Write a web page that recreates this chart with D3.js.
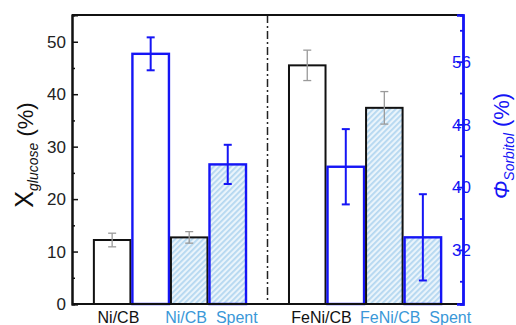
<!DOCTYPE html>
<html>
<head>
<meta charset="utf-8">
<script src="https://cdn.jsdelivr.net/npm/d3@7"></script>
<style>
  body { margin: 0; background: #fff; }
  svg { display: block; font-family: "Liberation Sans", Arial, sans-serif; }
</style>
</head>
<body>
<div id="chart"></div>
<script>
// data
const groups = ["Ni", "FeNi"];
const categories = ["Ni/CB", "Ni/CB_Spent", "FeNi/CB", "FeNi/CB_Spent"];
const conversion = [12.2, 12.7, 45.5, 37.4];      // X glucose (%), left axis
const conversionErr = [1.3, 1.1, 2.9, 3.1];
const selectivity = [57.0, 42.9, 42.6, 33.6];     // phi sorbitol (%), right axis
const selectivityErr = [2.1, 2.5, 4.8, 5.5];
const leftTicks = [0, 10, 20, 30, 40, 50];
const rightTicks = [32, 40, 48, 56];

const width = 516, height = 325;
const margin = { top: 15, right: 53, bottom: 21, left: 72 };
const x0 = margin.left, x1 = width - margin.right;
const y0 = height - margin.bottom, y1 = margin.top;

const blue = "#1515f5";
const labelBlue = "#3a98d8";

const svg = d3.select("#chart").append("svg")
  .attr("width", width).attr("height", height);

// hatch pattern for the spent catalysts
const defs = svg.append("defs");
const pat = defs.append("pattern")
  .attr("id", "hatch").attr("patternUnits", "userSpaceOnUse")
  .attr("width", 4).attr("height", 4)
  .attr("patternTransform", "rotate(45)");
pat.append("rect").attr("width", 4).attr("height", 4).attr("fill", "#eaf4fb");
pat.append("rect").attr("width", 1.8).attr("height", 4).attr("fill", "#b4d7f0");

// scales
const xGroup = d3.scaleBand().domain(groups).range([x0, x1])
  .paddingInner(0.21).paddingOuter(0.107);
const xBar = d3.scaleBand().domain([0, 1, 2, 3]).range([0, xGroup.bandwidth()]);
const yLeft = d3.scaleLinear().domain([0, 55.1]).range([y0, y1]);
const yRight = d3.scaleLinear().domain([25.1, 61.95]).range([y0, y1]);

// each category holds two bars: conversion then selectivity
function barX(i, k) {
  const g = groups[Math.floor(i / 2)];
  return xGroup(g) + xBar((i % 2) * 2 + k);
}
const bw = xBar.bandwidth();

const bars = svg.append("g");
categories.forEach((c, i) => {
  const spent = i % 2 === 1;
  const fill = spent ? "url(#hatch)" : "#fff";
  // black bar (left axis)
  let bx = barX(i, 0);
  bars.append("rect")
    .attr("x", bx + 1).attr("y", yLeft(conversion[i]))
    .attr("width", bw - 2).attr("height", y0 - yLeft(conversion[i]))
    .attr("fill", fill).attr("stroke", "#111").attr("stroke-width", 2);
  // blue bar (right axis)
  let rx = barX(i, 1);
  bars.append("rect")
    .attr("x", rx + 1).attr("y", yRight(selectivity[i]))
    .attr("width", bw - 2).attr("height", y0 - yRight(selectivity[i]))
    .attr("fill", fill).attr("stroke", blue).attr("stroke-width", 2.4);
});

// error bars
function errorBar(cx, yScale, v, e, color, w) {
  const g = svg.append("g").attr("stroke", color).attr("stroke-width", w);
  g.append("line").attr("x1", cx).attr("x2", cx)
    .attr("y1", yScale(v - e)).attr("y2", yScale(v + e));
  [v - e, v + e].forEach(t => {
    g.append("line").attr("x1", cx - 4).attr("x2", cx + 4)
      .attr("y1", yScale(t)).attr("y2", yScale(t));
  });
}
categories.forEach((c, i) => {
  errorBar(barX(i, 0) + bw / 2, yLeft, conversion[i], conversionErr[i], "#9a9a9a", 1.3);
  errorBar(barX(i, 1) + bw / 2, yRight, selectivity[i], selectivityErr[i], blue, 2);
});

// divider between fresh groups
const divX = (xGroup("Ni") + xGroup.bandwidth() + xGroup("FeNi")) / 2;
svg.append("line")
  .attr("x1", divX).attr("x2", divX).attr("y1", y1).attr("y2", y0)
  .attr("stroke", "#222").attr("stroke-width", 1.5)
  .attr("stroke-dasharray", "8,3,2,3");

// frame
svg.append("line").attr("x1", x0).attr("x2", x1).attr("y1", y1).attr("y2", y1)
  .attr("stroke", "#111").attr("stroke-width", 2);
svg.append("line").attr("x1", x0).attr("x2", x1).attr("y1", y0).attr("y2", y0)
  .attr("stroke", "#111").attr("stroke-width", 2);

// left axis, inward ticks
const axL = svg.append("g").attr("transform", `translate(${x0},0)`);
axL.call(d3.axisRight(yLeft).tickValues(d3.range(5, 55, 10)).tickSize(3).tickFormat(""));
axL.append("g").call(d3.axisRight(yLeft).tickValues(leftTicks).tickSize(6).tickFormat(""));
axL.selectAll("path.domain").attr("stroke", "#111").attr("stroke-width", 2);
axL.selectAll("line").attr("stroke", "#111").attr("stroke-width", 1.5);
axL.selectAll(".lbl").data(leftTicks).enter().append("text")
  .attr("x", -6).attr("y", d => yLeft(d)).attr("dy", "0.36em")
  .attr("text-anchor", "end").attr("font-size", 17).attr("fill", "#222")
  .text(d => d);

// right axis, blue, inward ticks
const axR = svg.append("g").attr("transform", `translate(${x1},0)`);
axR.call(d3.axisLeft(yRight).tickValues([28, 36, 44, 52, 60]).tickSize(3).tickFormat(""));
axR.append("g").call(d3.axisLeft(yRight).tickValues(rightTicks).tickSize(6).tickFormat(""));
axR.selectAll("path.domain").attr("stroke", blue).attr("stroke-width", 2.4);
axR.selectAll("line").attr("stroke", blue).attr("stroke-width", 1.8);
axR.selectAll(".lbl").data(rightTicks).enter().append("text")
  .attr("x", 8).attr("y", d => yRight(d)).attr("dy", "0.36em")
  .attr("font-size", 17).attr("fill", blue)
  .text(d => d);

// category labels
const labelShift = [-13, 3, -5, 12];
categories.forEach((c, i) => {
  const cx = barX(i, 1);
  svg.append("text")
    .attr("x", cx + labelShift[i]).attr("y", 323)
    .attr("text-anchor", "middle").attr("font-size", 16)
    .attr("fill", i % 2 === 1 ? labelBlue : "#111")
    .text(c);
});

// axis titles
const tl = svg.append("text")
  .attr("transform", "translate(33,155) rotate(-90)")
  .attr("text-anchor", "middle").attr("fill", "#111");
tl.append("tspan").attr("font-size", 25).text("X");
tl.append("tspan").attr("font-size", 14).attr("font-style", "italic")
  .attr("dy", 5).text("glucose");
tl.append("tspan").attr("font-size", 22).attr("dy", -5).text(" (%)");

const tr = svg.append("text")
  .attr("transform", "translate(509,146) rotate(-90)")
  .attr("text-anchor", "middle").attr("fill", blue);
tr.append("tspan").attr("font-size", 22).attr("font-style", "italic").text("Φ");
tr.append("tspan").attr("font-size", 14).attr("font-style", "italic")
  .attr("dy", 5).text("Sorbitol");
tr.append("tspan").attr("font-size", 22).attr("dy", -5).text(" (%)");
</script>
</body>
</html>
